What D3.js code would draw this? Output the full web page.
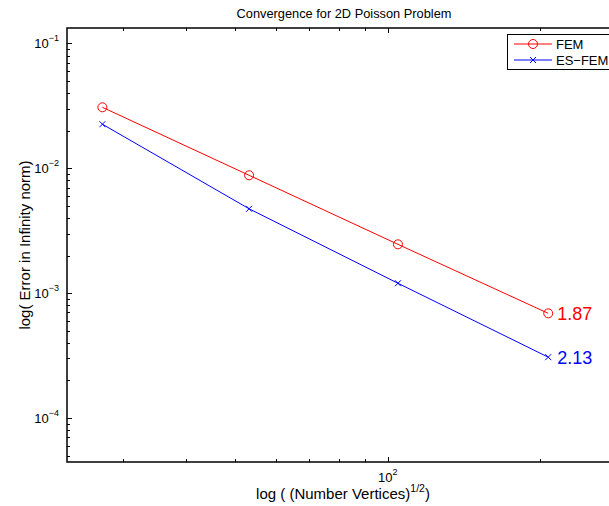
<!DOCTYPE html>
<html>
<head>
<meta charset="utf-8">
<style>
  body { margin: 0; background: #fff; }
  text { font-family: "Liberation Sans", Arial, sans-serif; }
</style>
</head>
<body>
<svg id="chart" width="609" height="506"></svg>
<script src="https://d3js.org/d3.v7.min.js"></script>
<script>
// data
const vertices = [27.3, 53.2, 104.7, 207.4]   // (Number Vertices)^(1/2)
const femErr   = [0.0308, 0.00879, 0.00246, 0.000689]
const esfemErr = [0.02255, 0.00474, 0.00120, 0.000307]
const rates    = ['1.87', '2.13']
const seriesNames = ['FEM', 'ES\u2212FEM']
const yTickExp = [-1, -2, -3, -4]
const xTickExp = [2]

const width = 609, height = 506
const margin = {top: 28, right: -6, bottom: 44, left: 67}

const x = d3.scaleLog()
  .domain([23.24, 281])
  .range([margin.left, width - margin.right])
const y = d3.scaleLog()
  .domain([4.44e-5, 0.133])
  .range([height - margin.bottom, margin.top])

const svg = d3.select('#chart')
const x0 = margin.left, x1 = width - margin.right
const y0 = height - margin.bottom, y1 = margin.top

// minor + major ticks (MATLAB style, pointing inwards)
function logTicks(dom) {
  const out = []
  const lo = Math.floor(Math.log10(dom[0])), hi = Math.ceil(Math.log10(dom[1]))
  for (let e = lo; e <= hi; e++)
    for (let m = 1; m < 10; m++) {
      const v = m * Math.pow(10, e)
      if (v >= dom[0] && v <= dom[1]) out.push({v, major: m === 1})
    }
  return out
}

const ticks = svg.append('g').attr('stroke', '#000').attr('stroke-width', 1)
logTicks(x.domain()).forEach(t => {
  const px = Math.round(x(t.v)) + 0.5, len = t.major ? 5 : 3
  ticks.append('line').attr('x1', px).attr('x2', px).attr('y1', y0).attr('y2', y0 - len)
  ticks.append('line').attr('x1', px).attr('x2', px).attr('y1', y1).attr('y2', y1 + len)
})
logTicks(y.domain()).forEach(t => {
  const py = Math.round(y(t.v)) + 0.5, len = t.major ? 5 : 3
  ticks.append('line').attr('x1', x0).attr('x2', x0 + len).attr('y1', py).attr('y2', py)
  ticks.append('line').attr('x1', x1).attr('x2', x1 - len).attr('y1', py).attr('y2', py)
})

// axes box
svg.append('rect')
  .attr('x', x0).attr('y', y1)
  .attr('width', x1 - x0).attr('height', y0 - y1)
  .attr('fill', 'none').attr('stroke', '#000').attr('stroke-width', 1.5)

// tick labels
yTickExp.forEach(e => {
  const t = svg.append('text')
    .attr('x', x0 - 8).attr('y', y(Math.pow(10, e)) + 5)
    .attr('text-anchor', 'end').attr('font-size', 13)
  t.append('tspan').text('10')
  t.append('tspan').attr('dy', -7).attr('font-size', 9).text('\u2212' + (-e))
})
xTickExp.forEach(e => {
  const t = svg.append('text')
    .attr('x', x(Math.pow(10, e))).attr('y', y0 + 20)
    .attr('text-anchor', 'middle').attr('font-size', 13)
  t.append('tspan').text('10')
  t.append('tspan').attr('dy', -7).attr('font-size', 9).text(e)
})

// series
const series = [
  {name: seriesNames[0], vals: femErr, color: '#ff0000', marker: 'circle'},
  {name: seriesNames[1], vals: esfemErr, color: '#0000ff', marker: 'cross'}
]
const line = d3.line().x(d => x(d[0])).y(d => y(d[1]))

function drawMarker(g, cx, cy, type, color) {
  if (type === 'circle') {
    g.append('circle').attr('cx', cx).attr('cy', cy).attr('r', 4.5)
      .attr('fill', 'none').attr('stroke', color).attr('stroke-width', 1)
  } else {
    const s = 3
    g.append('path')
      .attr('d', `M${cx - s},${cy - s}L${cx + s},${cy + s}M${cx - s},${cy + s}L${cx + s},${cy - s}`)
      .attr('stroke', color).attr('stroke-width', 1)
  }
}

series.forEach((s, i) => {
  const pts = vertices.map((v, j) => [v, s.vals[j]])
  const g = svg.append('g')
  g.append('path').attr('d', line(pts))
    .attr('fill', 'none').attr('stroke', s.color).attr('stroke-width', 1)
  pts.forEach(p => drawMarker(g, x(p[0]), y(p[1]), s.marker, s.color))
  const last = pts[pts.length - 1]
  svg.append('text')
    .attr('x', x(last[0]) + 9).attr('y', y(last[1]) + 7)
    .attr('font-size', 18).attr('fill', s.color)
    .text(rates[i])
})

// legend
const leg = svg.append('g')
leg.append('rect').attr('x', 507.5).attr('y', 34.5).attr('width', 110).attr('height', 35)
  .attr('fill', '#fff').attr('stroke', '#000').attr('stroke-width', 1)
series.forEach((s, i) => {
  const ly = 44 + i * 16
  leg.append('line').attr('x1', 514).attr('x2', 552).attr('y1', ly).attr('y2', ly)
    .attr('stroke', s.color).attr('stroke-width', 1)
  drawMarker(leg, 533, ly, s.marker, s.color)
  leg.append('text').attr('x', 556).attr('y', ly + 5).attr('font-size', 13).text(s.name)
})

// title and axis labels
svg.append('text')
  .attr('x', (x0 + x1) / 2 + 3).attr('y', 18)
  .attr('text-anchor', 'middle').attr('font-size', 12.8)
  .text('Convergence for 2D Poisson Problem')

const xl = svg.append('text')
  .attr('x', (x0 + x1) / 2 + 2).attr('y', 499)
  .attr('text-anchor', 'middle').attr('font-size', 15)
xl.append('tspan').text('log ( (Number Vertices)')
xl.append('tspan').attr('dy', -7).attr('font-size', 10.5).text('1/2')
xl.append('tspan').attr('dy', 7).text(')')

svg.append('text')
  .attr('transform', `translate(30,${(y0 + y1) / 2}) rotate(-90)`)
  .attr('text-anchor', 'middle').attr('font-size', 15)
  .text('log( Error in Infinity norm)')
</script>
</body>
</html>
